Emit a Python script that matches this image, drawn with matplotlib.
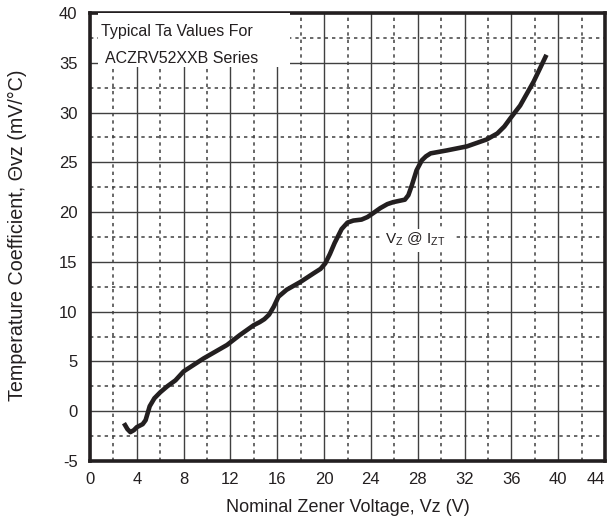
import numpy as np
import matplotlib
matplotlib.use("Agg")
import matplotlib.pyplot as plt
from matplotlib.patches import Rectangle

plt.rcParams['font.family'] = ['Liberation Sans', 'DejaVu Sans']
plt.rcParams['mathtext.fontset'] = 'custom'
plt.rcParams['mathtext.rm'] = 'Liberation Sans'
plt.rcParams['axes.unicode_minus'] = False

# Typical temperature coefficient curve
vz = [2.9, 3.2, 3.45, 3.75, 4.0, 4.5, 4.75, 5.1, 5.5, 6.0, 6.6, 7.3, 8.0, 9.7, 11.7,
      12.8, 14.0, 14.5, 14.9, 15.3, 15.7, 16.1, 16.8, 18.0, 19.1, 19.7, 20.1, 20.5,
      20.9, 21.5, 22.0, 22.5, 23.2, 23.7, 24.2, 24.8, 25.4, 25.9, 26.5, 26.9, 27.2,
      27.5, 27.9, 28.35, 28.7, 29.1, 30.5, 32.2, 33.9, 34.8, 35.4, 35.9, 36.75,
      37.9, 39.0]
theta = [-1.2, -1.8, -2.1, -1.9, -1.6, -1.3, -0.9, 0.5, 1.3, 1.9, 2.5, 3.1, 4.0, 5.3,
         6.65, 7.65, 8.65, 8.95, 9.25, 9.7, 10.5, 11.5, 12.2, 13.0, 13.85, 14.3, 14.85,
         15.8, 16.9, 18.3, 18.95, 19.15, 19.25, 19.5, 19.9, 20.4, 20.8, 21.0, 21.15,
         21.25, 21.7, 22.7, 24.2, 25.2, 25.6, 25.9, 26.2, 26.6, 27.3, 27.9, 28.6,
         29.4, 30.7, 33.1, 35.8]

x_ticks = np.arange(0, 45, 4)
y_ticks = np.arange(-5, 41, 5)

fig = plt.figure(figsize=(6.12, 5.28), dpi=100)
ax = fig.add_axes([90 / 612, 1 - 461 / 528, 515 / 612, 448 / 528])

ax.set_xlim(0, 44)
ax.set_ylim(-5, 40)
ax.set_xticks(x_ticks)
ax.set_xticklabels([str(v) for v in x_ticks])
ax.set_yticks(y_ticks)
ax.set_yticklabels([str(v) for v in y_ticks])
ax.set_xticks(np.arange(2, 44, 4), minor=True)
ax.set_yticks(np.arange(-2.5, 40, 5), minor=True)
# last x label sits inside the figure edge, as in the reference
ax.get_xticklabels()[-1].set_horizontalalignment('right')

ax.grid(which='major', color='#404040', linewidth=1.0, linestyle='-')
ax.grid(which='minor', color='#404040', linewidth=1.1, linestyle=(0, (2.2, 2.6)))
ax.tick_params(which='both', length=0)
ax.tick_params(axis='x', pad=8, labelsize=12, colors='#231f20')
ax.tick_params(axis='y', pad=9, labelsize=12, colors='#231f20')
ax.set_axisbelow(True)

for s in ax.spines.values():
    s.set_linewidth(2.6)
    s.set_color('#231f20')

ax.plot(vz, theta, color='#231f20', linewidth=3.3, solid_joinstyle='round',
        solid_capstyle='butt', zorder=5)

# white boxes behind the annotations
ax.add_patch(Rectangle((0.68, 34.6), 16.4, 5.4, facecolor='white', edgecolor='none', zorder=3))
ax.text(0.98, 38.1, "Typical Ta Values For", fontsize=11.5, va='center', ha='left',
        color='#231f20', zorder=4)
ax.text(1.28, 35.4, "ACZRV52XXB Series", fontsize=11.5, va='center', ha='left',
        color='#231f20', zorder=4)

ax.add_patch(Rectangle((24.8, 16.0), 6.2, 2.35, facecolor='white', edgecolor='none', zorder=3))
ax.text(25.2, 17.3, r"V$_{\mathrm{Z}}$ @ I$_{\mathrm{ZT}}$", fontsize=11, va='center',
        ha='left', color='#231f20', zorder=4)

ax.set_xlabel("Nominal Zener Voltage, Vz (V)", fontsize=13, color='#231f20')
ax.set_ylabel("Temperature Coefficient, Θvz (mV/°C)", fontsize=14.2, color='#231f20')
ax.xaxis.set_label_coords(0.5, -0.084)
ax.yaxis.set_label_coords(-0.122, 0.504)

plt.savefig("out.png", dpi=100)
